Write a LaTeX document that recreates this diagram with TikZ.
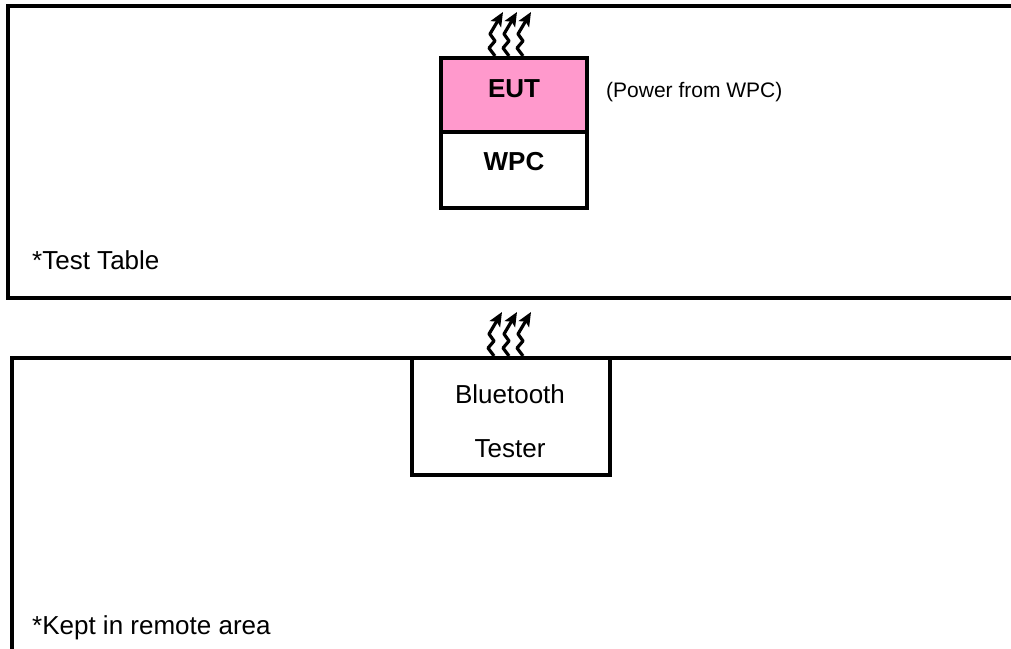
\documentclass[tikz,border=0pt]{standalone}
\usepackage{fontspec}
\setmainfont{Liberation Sans}
\usetikzlibrary{arrows.meta}
\definecolor{eutpink}{RGB}{255,153,204}
\tikzset{
  x=1pt,y=-1pt,
  frame/.style={line width=3.5pt},
  unitbox/.style={line width=3.5pt,draw=black},
  bigtext/.style={inner sep=0pt,font=\fontsize{26}{30}\selectfont},
  boldtext/.style={inner sep=0pt,font=\fontsize{26}{30}\selectfont\bfseries},
  smalltext/.style={inner sep=0pt,font=\fontsize{21}{24}\selectfont},
  wave/.pic={\draw[line width=3.2pt,line join=round,-{Stealth[length=14pt,width=12pt,inset=3pt]}]
     (0,0) -- (-6,-8) -- (0,-15) -- (-5,-22) -- (8,-44);}
}
\begin{document}
\begin{tikzpicture}
\useasboundingbox (0,0) rectangle (1011,648);
% frames
\draw[frame] (1020,6) -- (8,6) -- (8,298) -- (1020,298);
\draw[frame] (1020,358) -- (12,358) -- (12,660);
% EUT / WPC
\filldraw[unitbox,fill=eutpink] (441,58) rectangle (587,132);
\draw[unitbox] (441,132) rectangle (587,208);
\node[boldtext,anchor=base] (eut) at (514,97) {EUT};
\node[boldtext,anchor=base] (wpc) at (514,170) {WPC};
\node[smalltext,anchor=base west] (pw) at (606,97) {(Power from WPC)};
% Bluetooth tester
\draw[unitbox] (412,358) rectangle (610,475);
\node[bigtext,anchor=base] (bt1) at (510,403) {Bluetooth};
\node[bigtext,anchor=base] (bt2) at (510,457) {Tester};
% labels
\node[bigtext,anchor=base west] (tt) at (32,269) {*Test Table};
\node[bigtext,anchor=base west] (kr) at (32,634) {*Kept in remote area};
% waves
\foreach \xx in {495,509,523} {\pic at (\xx,56) {wave};}
\foreach \xx in {494,509,523} {\pic at (\xx,356) {wave};}
\end{tikzpicture}
\end{document}
